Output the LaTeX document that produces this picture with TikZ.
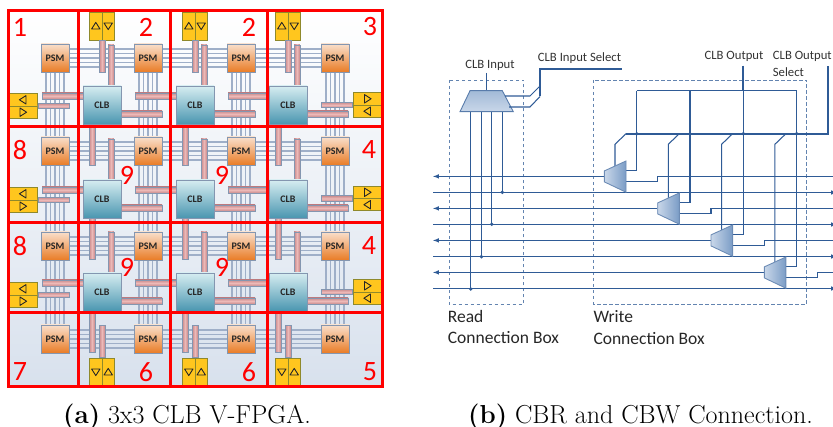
\documentclass[tikz,border=0pt]{standalone}
\usepackage{fontspec}
\newfontfamily\carlito{Carlito}
\usetikzlibrary{arrows,backgrounds,calc}
\definecolor{wire}{HTML}{2F5B96}
\definecolor{busgray}{HTML}{9FAFC8}
\definecolor{edgegray}{HTML}{8496B0}
\definecolor{barend}{HTML}{C98A8C}
\definecolor{barmid}{HTML}{EDB9B7}
\definecolor{psmtop}{HTML}{F9DFCB}
\definecolor{psmbot}{HTML}{E97C26}
\definecolor{clbtop}{HTML}{D6EDF1}
\definecolor{clbbot}{HTML}{4A96B0}
\definecolor{ioyellow}{HTML}{FFC61E}
\definecolor{panelbot}{HTML}{D8E1ED}
\definecolor{muxlight}{HTML}{C9D7E9}
\definecolor{muxdark}{HTML}{7A9CC6}
\tikzset{
  psm/.style={draw=edgegray, line width=0.9pt, top color=psmtop, bottom color=psmbot,
    minimum size=28pt, inner sep=0pt, font=\carlito\bfseries\fontsize{10}{10}\selectfont, text=black!85},
  clb/.style={draw=edgegray, line width=0.9pt, top color=clbtop, bottom color=clbbot,
    minimum size=38pt, inner sep=0pt, font=\carlito\bfseries\fontsize{10}{10}\selectfont, text=black!85},
  iobox/.style={draw=olive!70!gray, line width=0.7pt, fill=ioyellow, inner sep=0pt},
  bus/.style={busgray, line width=1.1pt},
  barh/.style={draw=edgegray, line width=0.6pt, top color=barend, bottom color=barend, middle color=barmid},
  barv/.style={draw=edgegray, line width=0.6pt, left color=barend, right color=barend, middle color=barmid},
  grid/.style={red, line width=3pt},
  cellnum/.style={red, inner sep=0pt, font=\carlito\fontsize{28}{28}\selectfont},
  iotri/.pic={\draw[black!85, line width=0.9pt, line join=round] (0,-3.6) -- (4.2,3) -- (-4.2,3) -- cycle;},
  sig/.style={wire, line width=1.05pt},
  selbus/.style={wire, line width=1.7pt},
  boxdash/.style={wire!75!white, line width=0.7pt, dashed, dash pattern=on 3.5pt off 2.5pt},
  dot/.style={wire, line width=0pt},
  lbl/.style={inner sep=0pt, text=black!80, font=\carlito\fontsize{12.7}{13}\selectfont},
  lblbig/.style={inner sep=0pt, text=black!85, anchor=west, font=\carlito\fontsize{17.5}{18}\selectfont},
  capt/.style={inner sep=0pt, font=\fontsize{26}{27}\selectfont}
}
\begin{document}
\begin{tikzpicture}[x=1pt,y=-1pt]
  \useasboundingbox (0,0) rectangle (833,427);

  % PSM and CLB blocks
  \foreach \c/\x in {1/55,2/148,3/241,4/335}
    \foreach \r/\y in {1/58,2/151,3/246,4/339}
      \node[psm] (psm-\c-\r) at (\x,\y) {PSM};
  \foreach \c/\x in {1/102,2/195,3/288}
    \foreach \r/\y in {1/105,2/199,3/292}
      \node[clb] (clb-\c-\r) at (\x,\y) {CLB};

  \begin{pgfonlayer}{background}
    % Left array background
    \shade[top color=white, bottom color=panelbot] (8,11) rectangle (382,387);
    % Routing tracks
    \foreach \off in {-9,-4.5,0,4.5,9} {
      \foreach \c/\nxt in {1/2,2/3,3/4}
        \foreach \r in {1,2,3,4}
          \draw[bus] ($(psm-\c-\r.east)+(0,\off)$) -- ($(psm-\nxt-\r.west)+(0,\off)$);
      \foreach \c in {1,2,3,4}
        \foreach \r/\nxt in {1/2,2/3,3/4}
          \draw[bus] ($(psm-\c-\r.south)+(\off,0)$) -- ($(psm-\c-\nxt.north)+(\off,0)$);
    }
    % Bars around each CLB
    \foreach \c in {1,2,3}
      \foreach \r in {1,2,3} {
        \path[barh] ([shift={(-60,-12)}]clb-\c-\r.center) rectangle ([shift={(-19,-6)}]clb-\c-\r.center);
        \path[barh] ([shift={(19,6)}]clb-\c-\r.center) rectangle ([shift={(60,12)}]clb-\c-\r.center);
        \path[barv] ([shift={(6.2,-60)}]clb-\c-\r.center) rectangle ([shift={(11.8,-19)}]clb-\c-\r.center);
        \path[barv] ([shift={(-12.8,19)}]clb-\c-\r.center) rectangle ([shift={(-7.2,60)}]clb-\c-\r.center);
      }
  \end{pgfonlayer}

  % IO blocks, top and bottom
  \foreach \c/\x in {1/102,2/195,3/288} {
    \node[iobox, minimum width=25pt, minimum height=28pt] (io-top-\c) at (\x,26) {};
    \node[iobox, minimum width=25pt, minimum height=28pt] (io-bot-\c) at (\x,372) {};
    \draw[iobox] (io-top-\c.north) -- (io-top-\c.south);
    \draw[iobox] (io-bot-\c.north) -- (io-bot-\c.south);
    \path[barv] ([xshift=-2.8pt]io-top-\c.south) rectangle ([shift={(2.8,32)}]io-top-\c.south);
    \path[barv] ([xshift=-2.8pt]io-bot-\c.north) rectangle ([shift={(2.8,-32)}]io-bot-\c.north);
    \pic at ([xshift=-6.2pt]io-top-\c.center) {iotri};
    \pic[rotate=180] at ([xshift=6.2pt]io-top-\c.center) {iotri};
    \pic[rotate=180] at ([xshift=-6.2pt]io-bot-\c.center) {iotri};
    \pic at ([xshift=6.2pt]io-bot-\c.center) {iotri};
  }
  % IO blocks, left and right
  \foreach \r/\yl/\yr in {1/106/105,2/200/198.5,3/295/292} {
    \node[iobox, minimum width=29pt, minimum height=24.5pt] (io-lft-\r) at (23,\yl) {};
    \node[iobox, minimum width=29pt, minimum height=24.5pt] (io-rgt-\r) at (367.5,\yr) {};
    \draw[iobox] (io-lft-\r.west) -- (io-lft-\r.east);
    \draw[iobox] (io-rgt-\r.west) -- (io-rgt-\r.east);
    \path[barh] ([yshift=2.8pt]io-lft-\r.east) rectangle ([shift={(31,2.8)}]io-lft-\r.east);
    \path[barh] ([yshift=2.8pt]io-rgt-\r.west) rectangle ([shift={(-31,2.8)}]io-rgt-\r.west);
    \pic[rotate=90] at ([yshift=6.2pt]io-lft-\r.center) {iotri};
    \pic[rotate=-90] at ([yshift=-6.2pt]io-lft-\r.center) {iotri};
    \pic[rotate=-90] at ([yshift=6.2pt]io-rgt-\r.center) {iotri};
    \pic[rotate=90] at ([yshift=-6.2pt]io-rgt-\r.center) {iotri};
  }

  % Red cell grid
  \draw[grid] (8,11) rectangle (382,387);
  \draw[grid] (78,11) -- (78,387) (170,11) -- (170,387) (267,11) -- (267,387);
  \draw[grid] (8,127) -- (382,127) (8,222.5) -- (382,222.5) (8,313) -- (382,313);
  \foreach \n/\x/\y/\t in {a/20/27/1,b/146/27/2,c/249/27/2,d/370/27/3,e/20/150/8,f/127/175/9,g/222/175/9,h/369/150/4,
      i/20/246/8,j/127/267/9,k/222/267/9,l/369/246/4,m/20/372/7,n/146/372/6,o/249/372/6,p/370/372/5}
    \node[cellnum] (num-\n) at (\x,\y) {\t};

  % Read connection box
  \draw[boxdash] (449,80) rectangle (523.7,304.3);
  \draw[boxdash] (593.3,80) rectangle (806.7,304.3);
  \coordinate (inmux-tl) at (470,90.7);
  \coordinate (inmux-tr) at (502.3,90.7);
  \coordinate (inmux-br) at (513.3,111.7);
  \coordinate (inmux-bl) at (460,111.7);
  \coordinate (in-top) at (486.7,73);
  \coordinate (in-mid) at (486.7,90.7);
  \draw[sig] (in-top) -- (in-mid);
  \foreach \k/\x/\y in {1/470.7/289,2/481.4/256.7,3/491.7/224.3,4/502.3/192.3} {
    \coordinate (rd-\k) at (\x,111.7);
    \coordinate (rdend-\k) at (\x,\y);
    \draw[sig] (rd-\k) -- (rdend-\k);
    \fill[dot] (rdend-\k) circle (1.9);
  }
  \draw[draw=wire!80!white, line width=0.9pt, top color=muxdark!70!white, bottom color=muxlight]
    (inmux-tl) -- (inmux-tr) -- (inmux-br) -- (inmux-bl) -- cycle;
  % Input select
  \coordinate (insel-a) at (505,96);
  \coordinate (insel-b) at (530,96);
  \coordinate (insel-c) at (540,86);
  \coordinate (insel-d) at (509,107);
  \coordinate (insel-e) at (530,107);
  \coordinate (insel-f) at (540,96.5);
  \coordinate (insel-g) at (540,69);
  \coordinate (insel-h) at (621.7,69);
  \draw[sig] (insel-a) -- (insel-b) -- (insel-c);
  \draw[sig] (insel-d) -- (insel-e) -- (insel-f);
  \draw[selbus] (insel-f) -- (insel-g) -- (insel-h);

  % Write connection box
  \coordinate (busw) at (626,133.7);
  \coordinate (buse) at (827.7,133.7);
  \coordinate (bust) at (827.7,66);
  \draw[sig] (636.7,90.7) coordinate (rail-w) -- (796.7,90.7) coordinate (rail-e);
  \draw[selbus] (busw) -- (buse) -- (bust);
  \coordinate (out-top) at (743,65.7);
  \coordinate (out-rail) at (743,90.7);
  \draw[sig] (out-top) -- (out-rail);
  \foreach \i [evaluate=\i as \mx using 626+53.3*\i, evaluate=\i as \my using 176.4+32*\i] in {0,1,2,3} {
    \coordinate (mux\i-lt) at (\mx-21.6,\my-5.5);
    \coordinate (mux\i-lb) at (\mx-21.6,\my+5.5);
    \coordinate (mux\i-rt) at (\mx,\my-15.4);
    \coordinate (mux\i-rb) at (\mx,\my+15.8);
    \coordinate (mux\i-l) at (\mx-21.6,\my);
    \coordinate (wl\i) at (433,\my);
    \coordinate (wr\i) at (837,\my);
    \coordinate (el\i) at (433,\my+16.1);
    \coordinate (er\i) at (837,\my+16.1);
    \coordinate (o\i-a) at (\mx,\my-5.5);
    \coordinate (o\i-b) at (\mx+10.7,\my-5.5);
    \coordinate (o\i-c) at (\mx+10.7,133.7);
    \coordinate (o\i-d) at (\mx+10.7,90.7);
    \coordinate (p\i-a) at (\mx,\my+5.5);
    \coordinate (p\i-b) at (\mx+31.7,\my+5.5);
    \coordinate (p\i-c) at (\mx+31.7,\my);
    \coordinate (s\i-a) at (\mx-11,\my-10.4);
    \coordinate (s\i-b) at (\mx-11,144.3);
    \coordinate (s\i-c) at (\mx,133.7);
    % Horizontal lines
    \draw[sig, ->, >=latex] (mux\i-l) -- (wl\i);
    \draw[sig, ->, >=latex] (el\i) -- (er\i);
    % Mux outputs and selects
    \draw[sig] (o\i-a) -- (o\i-b) -- (o\i-d);
    \draw[sig] (p\i-a) -- (p\i-b) -- (p\i-c) -- (wr\i);
    \draw[sig] (s\i-a) -- (s\i-b) -- (s\i-c);
    \fill[dot] (o\i-c) circle (1.9);
    \draw[draw=wire!70!white, line width=0.9pt, left color=muxlight, right color=muxdark]
      (mux\i-lt) -- (mux\i-rt) -- (mux\i-rb) -- (mux\i-lb) -- cycle;
  }

  % Labels
  \node[lbl] (lbl-in) at (490,65.7) {CLB Input};
  \node[lbl] (lbl-insel) at (579.5,58.3) {CLB Input Select};
  \node[lbl] (lbl-out) at (734,56) {CLB Output};
  \node[lbl, anchor=west] (lbl-outsel) at (772.7,56) {CLB Output};
  \node[lbl, anchor=west] (lbl-outsel2) at (772.7,71.7) {Select};
  \node[lblbig] (lbl-read) at (447.7,316) {Read};
  \node[lblbig] (lbl-rconn) at (447.7,338) {Connection Box};
  \node[lblbig] (lbl-write) at (593.3,317) {Write};
  \node[lblbig] (lbl-wconn) at (593.3,339) {Connection Box};

  % Captions
  \node[capt] (cap-a) at (187,417) {\textbf{(a)} 3x3 CLB V-FPGA.};
  \node[capt] (cap-b) at (640.5,417) {\textbf{(b)} CBR and CBW Connection.};
\end{tikzpicture}
\end{document}
